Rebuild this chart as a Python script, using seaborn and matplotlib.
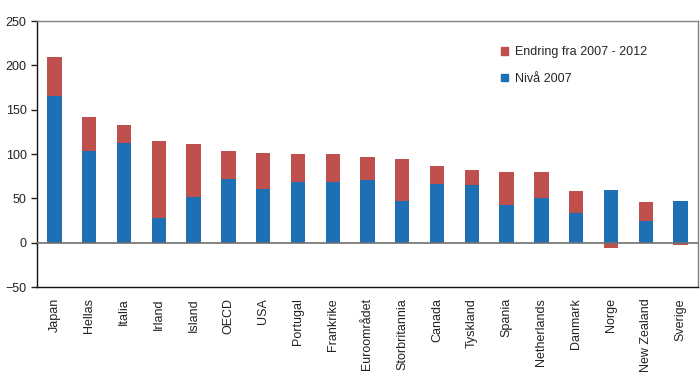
import numpy as np
import pandas as pd
import matplotlib
matplotlib.use("Agg")
import matplotlib.pyplot as plt
import seaborn as sns
from matplotlib.patches import Patch

sns.set_style("white")
plt.rcParams['font.family'] = ['Liberation Sans', 'DejaVu Sans']

land = ["Japan", "Hellas", "Italia", "Irland", "Island", "OECD", "USA", "Portugal",
        "Frankrike", "Euroområdet", "Storbritannia", "Canada", "Tyskland", "Spania",
        "Netherlands", "Danmark", "Norge", "New Zealand", "Sverige"]
niva_2007 = [166, 104, 112, 28, 52, 72, 61, 68, 69, 71, 47, 66, 65, 42, 51, 34, 59, 25, 47]
endring = [44, 38, 21, 87, 59, 31, 40, 32, 31, 26, 48, 21, 17, 38, 29, 24, -6, 21, -3]

df = pd.DataFrame({"land": land, "niva": niva_2007, "endring": endring})
# negative endringer tegnes fra 0 og nedover (som i Excel)
df["bunn"] = np.where(df["endring"] > 0, df["niva"], 0)

blaa = "#1F6FB5"
roed = "#C0504D"

fig = plt.figure(figsize=(7, 3.85), dpi=100)
ax = fig.add_axes([0.053, 0.2545, 0.944, 0.6905])

sns.barplot(x="land", y="niva", data=df, color=blaa, width=0.41, saturation=1,
            linewidth=0, ax=ax)
sns.barplot(x="land", y="endring", data=df, color=roed, width=0.41, saturation=1,
            linewidth=0, bottom=df["bunn"].values, ax=ax)

ax.set_ylim(-50, 250)
ax.set_yticks(range(-50, 251, 50))
ax.set_xlim(-0.5, len(land) - 0.5)
ax.axhline(0, color="#707070", lw=1.2, zorder=3)
ax.set_xlabel("")
ax.set_ylabel("")
ax.tick_params(axis="x", rotation=90, labelsize=9, length=0, pad=8, colors="#222222")
ax.tick_params(axis="y", labelsize=9, length=4, width=1, direction="out",
               left=True, colors="#222222")

for s in ["left", "bottom"]:
    ax.spines[s].set_color("#111111")
    ax.spines[s].set_linewidth(1)
for s in ["top", "right"]:
    ax.spines[s].set_color("#808080")
    ax.spines[s].set_linewidth(1)

handles = [Patch(color=roed, label="Endring fra 2007 - 2012"),
           Patch(color=blaa, label="Nivå 2007")]
ax.legend(handles=handles, loc="upper left", bbox_to_anchor=(0.702, 0.905), frameon=False,
          fontsize=9, handlelength=0.55, handleheight=0.55, labelspacing=1.15,
          handletextpad=0.6, borderpad=0, borderaxespad=0)

fig.savefig("out.png", dpi=100)
